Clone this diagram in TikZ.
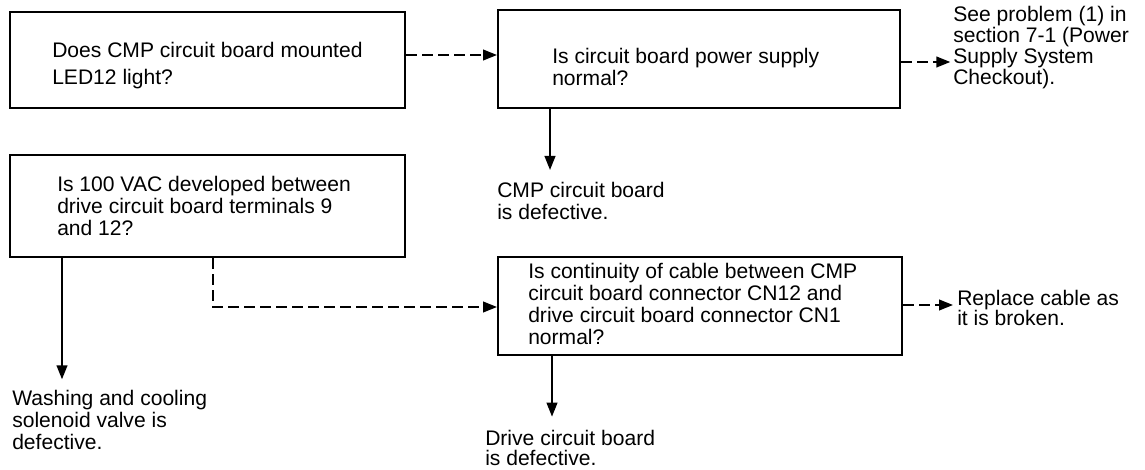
\documentclass[tikz,border=0pt]{standalone}
\usepackage{fontspec}
\setmainfont{Liberation Sans}
\usetikzlibrary{arrows.meta,calc}
\tikzset{
  boxnode/.style={draw,line width=1.5pt,rectangle,inner sep=0pt},
  txt/.style={inner sep=0pt,anchor=north west,align=left,font=\fontsize{15.8}{16.5}\selectfont},
  arr/.style={line width=1.5pt,-{Triangle[length=10.5pt,width=8pt]}},
  dasharr/.style={arr,dash pattern=on 8pt off 4pt}
}
\begin{document}
\begin{tikzpicture}[x=0.75pt,y=-0.75pt]
\useasboundingbox (0,0) rectangle (1145,470);
% boxes
\node[boxnode,minimum width=296.25pt,minimum height=72pt] (b1) at (207.5,60) {};
\node[boxnode,minimum width=301.5pt,minimum height=73.5pt] (b2) at (699,59) {};
\node[boxnode,minimum width=296.25pt,minimum height=76.5pt] (b3) at (207.5,206) {};
\node[boxnode,minimum width=303pt,minimum height=73.5pt] (b4) at (700,306) {};
% box texts
\node[txt,font=\fontsize{15.8}{20}\selectfont] (t1) at (52,42) {Does CMP circuit board mounted\\LED12 light?};
\node[txt] (t2) at (552,48) {Is circuit board power supply\\normal?};
\node[txt] (t3) at (57,176) {Is 100 VAC developed between\\drive circuit board terminals 9\\and 12?};
\node[txt] (t4) at (528,263) {Is continuity of cable between CMP\\circuit board connector CN12 and\\drive circuit board connector CN1\\normal?};
% result texts
\node[txt,font=\fontsize{15.8}{14.2}\selectfont] (r1) at (953,6) {See problem (1) in\\section 7-1 (Power\\Supply System\\Checkout).};
\node[txt] (r2) at (497,182) {CMP circuit board\\is defective.};
\node[txt] (r3) at (12,390) {Washing and cooling\\solenoid valve is\\defective.};
\node[txt,font=\fontsize{15.8}{15}\selectfont] (r4) at (957,290) {Replace cable as\\it is broken.};
\node[txt,font=\fontsize{15.8}{15}\selectfont] (r5) at (485,430) {Drive circuit board\\is defective.};
% connectors
\draw[dasharr] (b1.east |- 0,55) -- (b2.west |- 0,55);
\draw[dasharr] (b2.east |- 0,62) -- ([xshift=-2pt]r1.west |- 0,62);
\draw[arr] (b2.south -| 550,0) -- ([yshift=9pt]r2.north -| 550,0);
\draw[arr] (b3.south -| 62,0) -- ([yshift=8pt]r3.north -| 62,0);
\draw[dasharr] (b3.south -| 213,0) |- (b4.west |- 0,307);
\draw[dasharr] (b4.east |- 0,305) -- ([xshift=-3pt]r4.west |- 0,305);
\draw[arr] (b4.south -| 552,0) -- ([yshift=10pt]r5.north -| 552,0);
\end{tikzpicture}
\end{document}
